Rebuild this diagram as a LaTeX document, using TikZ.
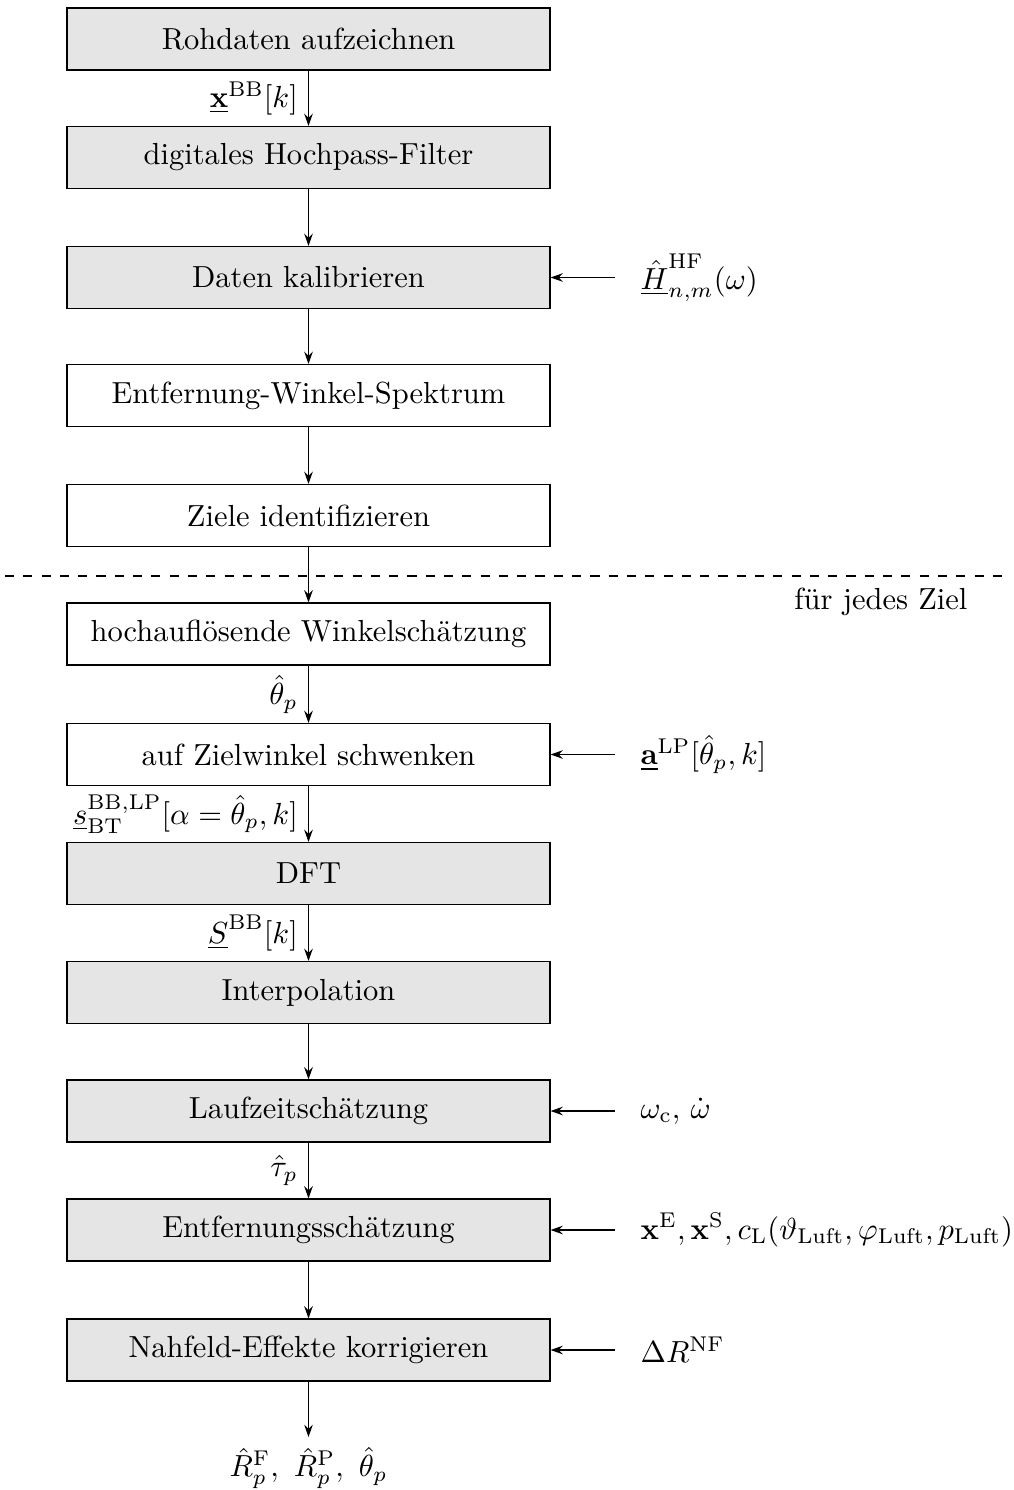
\documentclass[tikz,border=0pt]{standalone}
\usetikzlibrary{arrows.meta}
\begin{document}
\begin{tikzpicture}[x=0.328pt,y=-0.328pt,
  box/.style={draw, minimum width=158.4pt, minimum height=20.3pt, inner sep=0pt},
  gbox/.style={box, fill=black!10},
  arr/.style={-{Stealth[length=4pt,width=2.8pt]}},
  lab/.style={anchor=west, inner sep=0pt}]
\useasboundingbox (0,0) rectangle (1013,1490);
% boxes
\node[gbox] (b1) at (308.5,39) {Rohdaten aufzeichnen};
\node[gbox] (b2) at (308.5,157.5) {digitales Hochpass-Filter};
\node[gbox] (b3) at (308.5,277.5) {Daten kalibrieren};
\node[box] (b4) at (308.5,395.5) {Entfernung-Winkel-Spektrum};
\node[box] (b5) at (308.5,515.5) {Ziele identifizieren};
\node[box] (b6) at (308.5,634) {hochaufl\"osende Winkelsch\"atzung};
\node[box] (b7) at (308.5,754.5) {auf Zielwinkel schwenken};
\node[gbox] (b8) at (308.5,873.5) {DFT};
\node[gbox] (b9) at (308.5,992.5) {Interpolation};
\node[gbox] (b10) at (308.5,1111) {Laufzeitsch\"atzung};
\node[gbox] (b11) at (308.5,1230) {Entfernungssch\"atzung};
\node[gbox] (b12) at (308.5,1350) {Nahfeld-Effekte korrigieren};
% dashed separator
\coordinate (dl) at (5,576);
\coordinate (dr) at (1008,576);
\draw[dashed] (dl) -- (dr);
\node[anchor=east, inner sep=0pt] (fjz) at (968,602) {f\"ur jedes Ziel};
% vertical arrows
\draw[arr] (b1) -- node[left] {$\underline{\mathbf{x}}^{\mathrm{BB}}[k]$} (b2);
\draw[arr] (b2) -- (b3);
\draw[arr] (b3) -- (b4);
\draw[arr] (b4) -- (b5);
\draw[arr] (b5) -- (b6);
\draw[arr] (b6) -- node[left] {$\hat{\theta}_p$} (b7);
\draw[arr] (b7) -- node[left] {$\underline{s}^{\mathrm{BB,LP}}_{\mathrm{BT}}[\alpha=\hat{\theta}_p,k]$} (b8);
\draw[arr] (b8) -- node[left] {$\underline{S}^{\mathrm{BB}}[k]$} (b9);
\draw[arr] (b9) -- (b10);
\draw[arr] (b10) -- node[left] {$\hat{\tau}_p$} (b11);
\draw[arr] (b11) -- (b12);
\coordinate (oe) at (308.5,1437);
\draw[arr] (b12) -- (oe);
\node[anchor=north, inner sep=0pt] (out) at (308.5,1447) {$\hat{R}_p^{\mathrm{F}},\ \hat{R}_p^{\mathrm{P}},\ \hat{\theta}_p$};
% side inputs
\coordinate (i3) at (615,277.5);
\coordinate (i7) at (615,754.5);
\coordinate (i10) at (615,1111);
\coordinate (i11) at (615,1230);
\coordinate (i12) at (615,1350);
\draw[arr] (i3) -- (b3.east);
\draw[arr] (i7) -- (b7.east);
\draw[arr] (i10) -- (b10.east);
\draw[arr] (i11) -- (b11.east);
\draw[arr] (i12) -- (b12.east);
\node[lab] (l3) at (640,277.5) {$\underline{\hat{H}}^{\mathrm{HF}}_{n,m}(\omega)$};
\node[lab] (l7) at (640,754.5) {$\underline{\mathbf{a}}^{\mathrm{LP}}[\hat{\theta}_p,k]$};
\node[lab] (l10) at (640,1111) {$\omega_{\mathrm{c}},\,\dot{\omega}$};
\node[lab] (l11) at (640,1230) {$\mathbf{x}^{\mathrm{E}},\mathbf{x}^{\mathrm{S}},c_{\mathrm{L}}(\vartheta_{\mathrm{Luft}},\varphi_{\mathrm{Luft}},p_{\mathrm{Luft}})$};
\node[lab] (l12) at (640,1350) {$\Delta R^{\mathrm{NF}}$};
\end{tikzpicture}
\end{document}
